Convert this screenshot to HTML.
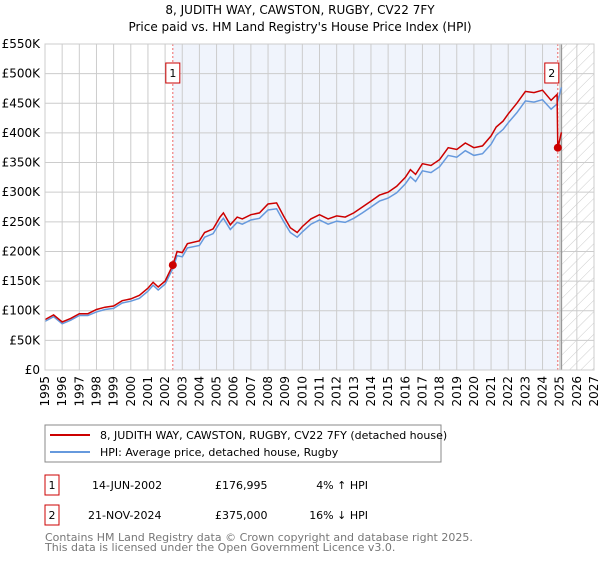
<!DOCTYPE html>
<html><head><meta charset="utf-8"><style>
body{margin:0;background:#fff;font-family:"DejaVu Sans","Liberation Sans",sans-serif;}
svg text{font-family:"DejaVu Sans","Liberation Sans",sans-serif;}
</style></head><body>
<svg id="c" width="600" height="560" xmlns="http://www.w3.org/2000/svg">
<defs>
<pattern id="hatch" width="8" height="8" patternUnits="userSpaceOnUse" patternTransform="rotate(45)">
<line x1="0" y1="0" x2="0" y2="8" stroke="#ccc" stroke-width="1"/></pattern>
</defs>
<text x="300" y="14" font-size="12" text-anchor="middle">8, JUDITH WAY, CAWSTON, RUGBY, CV22 7FY</text>
<text x="300" y="31" font-size="12" text-anchor="middle">Price paid vs. HM Land Registry's House Price Index (HPI)</text>
<g id="plot"></g>
<rect x="45" y="425" width="396" height="37" fill="#fff" stroke="#888"/>
<line x1="50" y1="435" x2="90" y2="435" stroke="#cc0000" stroke-width="2"/>
<text x="100" y="439" font-size="11">8, JUDITH WAY, CAWSTON, RUGBY, CV22 7FY (detached house)</text>
<line x1="50" y1="452" x2="90" y2="452" stroke="#6699dd" stroke-width="2"/>
<text x="100" y="456" font-size="11">HPI: Average price, detached house, Rugby</text>
<g font-size="11">
<rect x="45" y="475" width="14" height="20" fill="none" stroke="#cc0000"/>
<text x="52" y="489" text-anchor="middle">1</text>
<text x="92" y="489">14-JUN-2002</text>
<text x="215" y="489">£176,995</text>
<text x="368" y="489" text-anchor="end">4% ↑ HPI</text>
<rect x="45" y="505" width="14" height="20" fill="none" stroke="#cc0000"/>
<text x="52" y="519" text-anchor="middle">2</text>
<text x="88" y="519">21-NOV-2024</text>
<text x="215" y="519">£375,000</text>
<text x="368" y="519" text-anchor="end">16% ↓ HPI</text>
</g>
<text x="45" y="541" font-size="11" fill="#777">Contains HM Land Registry data © Crown copyright and database right 2025.</text>
<text x="45" y="551" font-size="11" fill="#777">This data is licensed under the Open Government Licence v3.0.</text>
</svg>
<script>
const priceYears=[1995,1995.5,1996,1996.5,1997,1997.5,1998,1998.5,1999,1999.5,2000,2000.5,2001,2001.3,2001.6,2002,2002.45,2002.7,2003,2003.3,2004,2004.3,2004.8,2005.2,2005.4,2005.8,2006.2,2006.5,2007,2007.5,2008,2008.5,2008.9,2009.3,2009.7,2010,2010.5,2011,2011.5,2012,2012.5,2013,2013.5,2014,2014.5,2015,2015.5,2016,2016.3,2016.6,2017,2017.5,2018,2018.5,2019,2019.5,2020,2020.5,2021,2021.3,2021.7,2022,2022.5,2023,2023.5,2024,2024.5,2024.85,2024.89,2025.1];
const priceValues=[85,93,81,87,95,95,102,106,108,117,120,126,138,148,140,150,177,200,198,213,218,232,238,258,265,245,258,255,262,265,280,282,260,240,232,242,255,262,255,260,258,265,275,285,295,300,310,325,338,330,348,345,355,375,372,383,375,378,395,410,420,432,450,470,468,472,455,465,374,401];
const hpiYears=[1995,1995.5,1996,1996.5,1997,1997.5,1998,1998.5,1999,1999.5,2000,2000.5,2001,2001.3,2001.6,2002,2002.45,2002.7,2003,2003.3,2004,2004.3,2004.8,2005.2,2005.4,2005.8,2006.2,2006.5,2007,2007.5,2008,2008.5,2008.9,2009.3,2009.7,2010,2010.5,2011,2011.5,2012,2012.5,2013,2013.5,2014,2014.5,2015,2015.5,2016,2016.3,2016.6,2017,2017.5,2018,2018.5,2019,2019.5,2020,2020.5,2021,2021.3,2021.7,2022,2022.5,2023,2023.5,2024,2024.5,2024.85,2025.1];
const hpiValues=[82,90,78,84,92,92,98,102,104,113,116,121,133,143,135,145,171,193,191,206,210,224,230,249,256,237,249,246,253,256,270,272,251,232,224,233,246,253,246,251,249,256,265,275,285,290,299,314,326,318,336,333,343,362,359,370,362,365,381,396,406,417,434,454,452,456,440,449,477];
const yTicks=[0,50,100,150,200,250,300,350,400,450,500,550];
const yTickLabels=["£0","£50K","£100K","£150K","£200K","£250K","£300K","£350K","£400K","£450K","£500K","£550K"];
const xTicks=[1995,1996,1997,1998,1999,2000,2001,2002,2003,2004,2005,2006,2007,2008,2009,2010,2011,2012,2013,2014,2015,2016,2017,2018,2019,2020,2021,2022,2023,2024,2025,2026,2027];
const sales=[{n:"1",year:2002.45,value:177},{n:"2",year:2024.89,value:375}];
const X0=45,X1=594,Y0=370,Y1=44;
const xs=y=>X0+(y-1995)/(2027-1995)*(X1-X0);
const ys=v=>Y0-v/550*(Y0-Y1);
const NS="http://www.w3.org/2000/svg";
const g=document.getElementById('plot');
function mk(t,a){const e=document.createElementNS(NS,t);for(const k in a)e.setAttribute(k,a[k]);g.appendChild(e);return e;}
let e;
e=mk('rect',{x:xs(sales[0].year),y:Y1,width:xs(sales[1].year)-xs(sales[0].year),height:Y0-Y1,fill:'#f0f4fc'});


e=mk('rect',{x:xs(2025.1),y:Y1,width:X1-xs(2025.1),height:Y0-Y1,fill:'url(#hatch)'});


yTicks.forEach((v,i)=>{
 e=mk('line',{x1:X0,x2:X1,y1:ys(v),y2:ys(v),stroke:'#ccc','stroke-width':1});
 
 
 e=mk('text',{x:40,y:ys(v)+4,'font-size':12,'text-anchor':'end'});e.textContent=yTickLabels[i];
 
 
});
xTicks.forEach(v=>{
 e=mk('line',{x1:xs(v),x2:xs(v),y1:Y1,y2:Y0,stroke:'#ccc','stroke-width':1});
 
 
 e=mk('text',{x:xs(v)+4,y:Y0+6,'font-size':12,'text-anchor':'end',transform:`rotate(-90 ${xs(v)+4} ${Y0+6})`});e.textContent=v;
 
 
});
e=mk('line',{x1:xs(2025.1),x2:xs(2025.1),y1:Y1,y2:Y0,stroke:'#999','stroke-width':1.5});


sales.forEach(s=>{
 e=mk('line',{x1:xs(s.year),x2:xs(s.year),y1:Y1,y2:Y0,stroke:'#e66','stroke-width':1,'stroke-dasharray':'2,2'});
 
 
});
e=mk('path',{d:hpiYears.map((y,i)=>(i?'L':'M')+xs(y).toFixed(1)+','+ys(hpiValues[i]).toFixed(1)).join(''),fill:'none',stroke:'#6699dd','stroke-width':1.5});


e=mk('path',{d:priceYears.map((y,i)=>(i?'L':'M')+xs(y).toFixed(1)+','+ys(priceValues[i]).toFixed(1)).join(''),fill:'none',stroke:'#cc0000','stroke-width':1.5});


sales.forEach(s=>{
 e=mk('circle',{cx:xs(s.year),cy:ys(s.value),r:4,fill:'#cc0000'});
 
 
 const bx=xs(s.year)-(s.n==="1"?7:13);
 e=mk('rect',{x:bx,y:63,width:14,height:20,fill:'#fff',stroke:'#cc0000'});
 
 
 e=mk('text',{x:bx+7,y:77,'font-size':11,'text-anchor':'middle'});e.textContent=s.n;
 
 
});
e=mk('rect',{x:X0,y:Y1,width:X1-X0,height:Y0-Y1,fill:'none',stroke:'#ccc'});


</script>
</body></html>
